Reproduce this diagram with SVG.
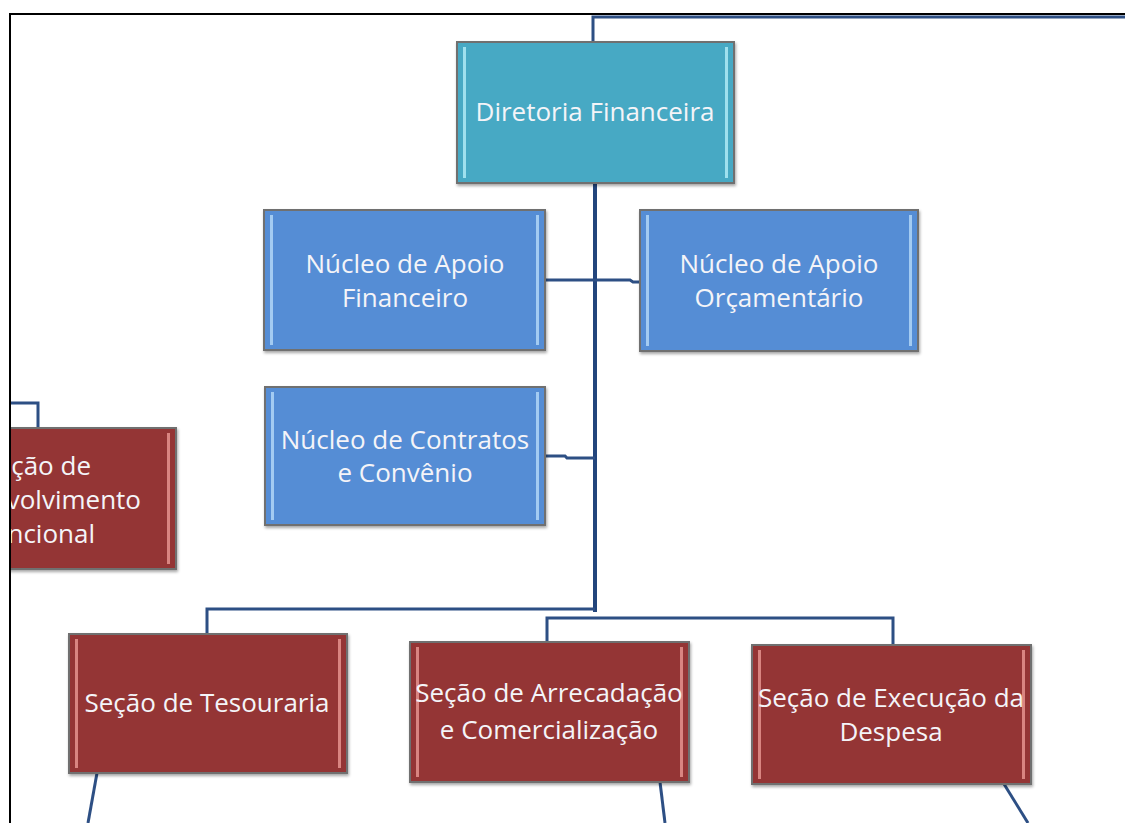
<svg xmlns="http://www.w3.org/2000/svg" width="1125" height="823" viewBox="0 0 1125 823">
  <defs>
    <style>
      .box { stroke: #6f6f6f; stroke-width: 2; }
      .teal { fill: #47a9c4; }
      .blue { fill: #558dd5; }
      .red { fill: #943634; }
      .hl-teal { fill: #9fe0ee; }
      .hl-blue { fill: #a3cbf2; }
      .hl-red { fill: #d98581; }
      .lbl { font-family: "Open Sans", "Liberation Sans", sans-serif; font-size: 26px; fill: #f4f4f8; text-anchor: middle; }
      .lbl-end { font-family: "Open Sans", "Liberation Sans", sans-serif; font-size: 26px; fill: #f4f4f8; text-anchor: end; }
      .conn { fill: none; stroke: #2d4f84; stroke-width: 3; }
      .trunk { fill: none; stroke: #22457c; stroke-width: 4; }
      .frame { fill: none; stroke: #000; stroke-width: 2; }
    </style>
    <filter id="shadow" x="-5%" y="-5%" width="115%" height="115%">
      <feDropShadow dx="1" dy="2" stdDeviation="1.5" flood-color="#000" flood-opacity="0.35"/>
    </filter>
  </defs>

  <rect width="1125" height="823" fill="#ffffff"/>

  <!-- connectors -->
  <g id="connectors">
    <path class="conn" d="M593,42 V17 H1125"/>
    <path class="trunk" d="M595,183 V612"/>
    <path class="conn" d="M545,280 H630 L633,282 H640"/>
    <path class="conn" d="M545,456 H565 L567,458 H595"/>
    <path class="conn" d="M595,609 H207 V634"/>
    <path class="conn" d="M595,618 H547 V642"/>
    <path class="conn" d="M595,618 H893 V645"/>
    <path class="conn" d="M10,403 H38 V428"/>
    <path class="conn" d="M97,773 L88,823"/>
    <path class="conn" d="M660,782 L665,823"/>
    <path class="conn" d="M1004,784 L1028,823"/>
  </g>

  <!-- Diretoria Financeira -->
  <g id="diretoria-financeira">
    <rect class="box teal" x="457" y="42" width="277" height="141" filter="url(#shadow)"/>
    <rect class="hl-teal" x="463" y="47" width="3" height="131"/>
    <rect class="hl-teal" x="725" y="47" width="3" height="131"/>
    <text class="lbl" x="595" y="121">Diretoria Financeira</text>
  </g>

  <!-- Núcleo de Apoio Financeiro -->
  <g id="nucleo-apoio-financeiro">
    <rect class="box blue" x="264" y="210" width="281" height="140" filter="url(#shadow)"/>
    <rect class="hl-blue" x="270" y="215" width="3" height="130"/>
    <rect class="hl-blue" x="536" y="215" width="3" height="130"/>
    <text class="lbl" x="405" y="273">Núcleo de Apoio</text>
    <text class="lbl" x="405" y="307">Financeiro</text>
  </g>

  <!-- Núcleo de Apoio Orçamentário -->
  <g id="nucleo-apoio-orcamentario">
    <rect class="box blue" x="640" y="210" width="278" height="141" filter="url(#shadow)"/>
    <rect class="hl-blue" x="646" y="215" width="3" height="131"/>
    <rect class="hl-blue" x="909" y="215" width="3" height="131"/>
    <text class="lbl" x="779" y="273">Núcleo de Apoio</text>
    <text class="lbl" x="779" y="307">Orçamentário</text>
  </g>

  <!-- Núcleo de Contratos e Convênio -->
  <g id="nucleo-contratos">
    <rect class="box blue" x="265" y="387" width="280" height="138" filter="url(#shadow)"/>
    <rect class="hl-blue" x="271" y="392" width="3" height="128"/>
    <rect class="hl-blue" x="536" y="392" width="3" height="128"/>
    <text class="lbl" x="405" y="449">Núcleo de Contratos</text>
    <text class="lbl" x="405" y="482">e Convênio</text>
  </g>

  <!-- section cut by the page edge -->
  <g id="secao-desenvolvimento">
    <rect class="box red" x="4" y="428" width="172" height="141" filter="url(#shadow)"/>
    <rect class="hl-red" x="167" y="433" width="3" height="131"/>
    <text class="lbl-end" x="91" y="475">ção de</text>
    <text class="lbl-end" x="141" y="509">volvimento</text>
    <text class="lbl-end" x="95" y="543">ncional</text>
  </g>

  <!-- white margin outside the page and the page frame -->
  <rect x="0" y="0" width="9" height="823" fill="#ffffff"/>
  <rect x="0" y="0" width="1125" height="13" fill="#ffffff"/>
  <path class="frame" d="M10,823 V14 H1125"/>

  <!-- Seção de Tesouraria -->
  <g id="secao-tesouraria">
    <rect class="box red" x="69" y="634" width="278" height="139" filter="url(#shadow)"/>
    <rect class="hl-red" x="75" y="639" width="3" height="129"/>
    <rect class="hl-red" x="338" y="639" width="3" height="129"/>
    <text class="lbl" x="207" y="712">Seção de Tesouraria</text>
  </g>

  <!-- Seção de Arrecadação e Comercialização -->
  <g id="secao-arrecadacao">
    <rect class="box red" x="410" y="642" width="279" height="140" filter="url(#shadow)"/>
    <rect class="hl-red" x="416" y="647" width="3" height="130"/>
    <rect class="hl-red" x="680" y="647" width="3" height="130"/>
    <text class="lbl" x="549" y="702">Seção de Arrecadação</text>
    <text class="lbl" x="549" y="739">e Comercialização</text>
  </g>

  <!-- Seção de Execução da Despesa -->
  <g id="secao-execucao">
    <rect class="box red" x="752" y="645" width="279" height="139" filter="url(#shadow)"/>
    <rect class="hl-red" x="758" y="650" width="3" height="129"/>
    <rect class="hl-red" x="1022" y="650" width="3" height="129"/>
    <text class="lbl" x="891" y="707">Seção de Execução da</text>
    <text class="lbl" x="891" y="741">Despesa</text>
  </g>
</svg>
